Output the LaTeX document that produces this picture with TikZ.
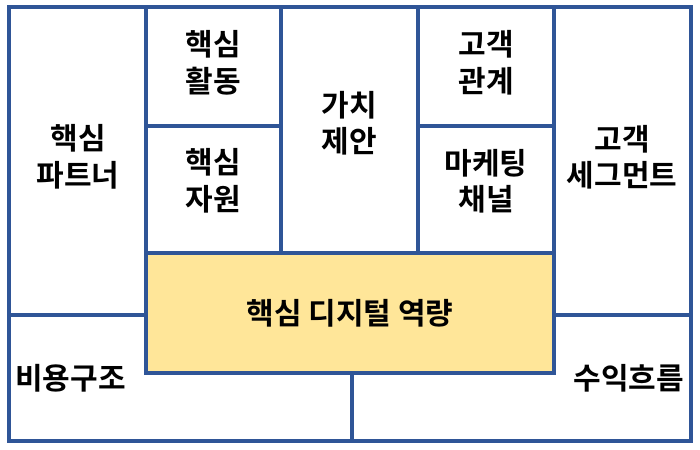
\documentclass[tikz,border=0pt]{standalone}
\usepackage{fontspec}
\newfontfamily\kr{Noto Sans CJK KR}[BoldFont={Noto Sans CJK KR Bold}]
\definecolor{frameblue}{RGB}{47,85,151}
\definecolor{coreyellow}{RGB}{255,230,153}
\begin{document}
\begin{tikzpicture}[x=1pt,y=-1pt,
  frame/.style={draw=frameblue,line width=4.8pt},
  lbl/.style={font=\kr\bfseries\fontsize{30}{36.5}\selectfont,align=center,inner sep=0pt,text=black}]
\useasboundingbox (0,0) rectangle (700,449);
\fill[white] (0,0) rectangle (700,449);
% core box
\fill[coreyellow] (146,253) rectangle (554,373);
% frame lines
\draw[frame,line join=miter] (9,7) rectangle (691,441);
\draw[frame] (146,7) -- (146,373) -- (554,373) -- (554,7);
\draw[frame] (146,253) -- (554,253);
\draw[frame] (281,7) -- (281,253);
\draw[frame] (418,7) -- (418,253);
\draw[frame] (146,126) -- (281,126);
\draw[frame] (418,126) -- (554,126);
\draw[frame] (9,315) -- (146,315);
\draw[frame] (554,315) -- (691,315);
\draw[frame] (352,373) -- (352,441);
% labels
\node[lbl] (kp) at (78,157) {핵심\\파트너};
\node[lbl] (ka) at (213,63) {핵심\\활동};
\node[lbl] (kr) at (213,181) {핵심\\자원};
\node[lbl] (vp) at (349,123) {가치\\제안};
\node[lbl] (cr) at (486,63) {고객\\관계};
\node[lbl] (ch) at (486,181) {마케팅\\채널};
\node[lbl] (cs) at (622,157) {고객\\세그먼트};
\node[lbl] (core) at (350,313) {핵심 디지털 역량};
\node[lbl,anchor=west] (cost) at (15,378) {비용구조};
\node[lbl,anchor=east] (rev) at (684,378) {수익흐름};
\end{tikzpicture}
\end{document}
